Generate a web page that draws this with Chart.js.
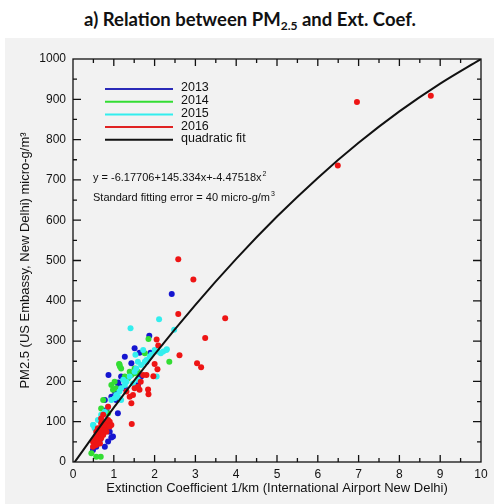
<!DOCTYPE html>
<html>
<head>
<meta charset="utf-8">
<script src="https://cdn.jsdelivr.net/npm/chart.js@4"></script>
<style>
  html, body { margin: 0; padding: 0; background: #fff; }
  #wrap { position: relative; width: 494px; height: 504px; overflow: hidden; }
  #panel { position: absolute; left: 5px; top: 38px; right: 0; bottom: 0; background: #f2f2f2; }
  #title { position: absolute; left: 3px; top: 10px; width: 494px; text-align: center;
           font: bold 18.5px Lato, "Open Sans", sans-serif; line-height: 19px; color: #111; }
  #title sub { font-size: 12px; vertical-align: -4px; line-height: 0; }
  #chart { position: absolute; left: 0; top: 0; }
</style>
</head>
<body>
<div id="wrap">
  <div id="panel"></div>
  <div id="title">a) Relation between PM<sub>2.5</sub> and Ext. Coef.</div>
  <canvas id="chart" width="494" height="504"></canvas>
</div>
<script>
  // valores
  const x2013 = [2.42, 1.87, 1.51, 1.63, 1.27, 1.90, 1.80, 0.87, 1.10, 1.18, 1.27, 1.59, 1.67, 0.78, 0.94, 1.06, 0.82, 1.10, 0.86, 0.90, 0.98, 0.94, 0.78, 0.66, 0.57, 0.49, 0.70, 0.86, 1.18, 1.43, 0.60, 1.03, 1.11];
  const y2013 = [417, 313, 282, 271, 261, 271, 249, 216, 195, 187, 183, 191, 212, 154, 162, 154, 129, 121, 96, 75, 63, 61, 38, 55, 38, 30, 67, 51, 212, 245, 45, 174, 197];

  const x2014 = [1.85, 2.36, 1.14, 1.18, 1.39, 1.35, 1.27, 1.76, 1.43, 0.94, 0.98, 0.74, 0.69, 0.86, 1.06, 1.59, 1.25, 0.45, 0.57, 0.68, 1.02, 1.51, 1.15, 1.13, 1.52];
  const y2014 = [305, 249, 242, 232, 224, 208, 212, 270, 216, 191, 179, 154, 133, 121, 183, 224, 204, 22, 13, 13, 199, 232, 237, 243, 220];

  const x2015 = [1.41, 2.11, 2.48, 1.53, 1.72, 1.76, 2.00, 2.15, 2.29, 2.21, 1.59, 1.55, 1.67, 1.51, 1.39, 1.31, 1.27, 1.18, 1.14, 1.06, 1.02, 0.94, 0.86, 0.78, 0.69, 0.49, 0.53, 0.61, 1.23, 1.10, 1.18, 1.47, 1.59, 1.80, 1.88, 1.92, 2.07, 2.30, 2.05, 0.50];
  const y2015 = [332, 354, 328, 266, 278, 249, 278, 270, 278, 274, 249, 232, 241, 224, 212, 199, 191, 183, 175, 166, 158, 154, 137, 125, 117, 92, 84, 104, 204, 162, 154, 195, 204, 253, 261, 266, 274, 280, 212, 92];

  const x2016 = [2.58, 2.95, 2.58, 3.73, 3.24, 2.61, 3.04, 3.14, 2.05, 2.09, 2.07, 1.97, 2.00, 1.44, 6.49, 6.96, 8.77, 1.72, 1.66, 1.84, 1.85, 1.51, 1.47, 1.39, 1.43, 1.59, 0.86, 0.74, 0.69, 0.90, 0.94, 0.82, 0.86, 0.78, 0.74, 0.69, 0.66, 0.61, 0.57, 0.53, 0.49, 0.53, 0.61, 0.69, 0.66, 0.78, 0.82, 0.74, 0.57, 0.61, 0.86, 0.90, 0.57, 0.49, 0.69, 0.66, 1.31, 1.63, 1.80];
  const y2016 = [503, 453, 367, 357, 308, 265, 245, 235, 304, 289, 230, 213, 243, 94, 736, 893, 909, 216, 199, 180, 168, 183, 166, 162, 146, 187, 137, 117, 108, 100, 92, 96, 88, 84, 79, 75, 71, 67, 63, 55, 50, 46, 55, 59, 84, 92, 75, 67, 75, 84, 104, 88, 42, 38, 96, 46, 175, 179, 216];

  // ajuste cuadratico (valores de la curva negra)
  const fitX = [0, 1, 2, 3, 4, 5, 6, 7, 8, 9, 10];
  const fitY = [-6, 135, 267, 390, 504, 609, 705, 792, 870, 939, 1000];

  const legendNames = ['2013', '2014', '2015', '2016', 'quadratic fit'];
  const legendColors = ['#2a2ab8', '#33dd33', '#33eeee', '#e02222', '#111111'];
  const equationText = 'y = -6.17706+145.334x+-4.47518x';
  const errorText = 'Standard fitting error = 40 micro-g/m';

  const toPoints = (xs, ys) => xs.map((x, i) => ({ x, y: ys[i] }));

  const pointSet = (label, xs, ys, color, order) => ({
    label,
    data: toPoints(xs, ys),
    backgroundColor: color,
    borderWidth: 0,
    pointRadius: 3,
    pointHoverRadius: 3,
    order,
  });

  const frameAndLegend = {
    id: 'frameAndLegend',
    afterDatasetsDraw(chart) {
      const { ctx, chartArea: a, scales: { x, y } } = chart;
      ctx.save();
      ctx.strokeStyle = '#111';
      ctx.lineWidth = 1.3;

      // marcas hacia adentro en los cuatro lados
      ctx.beginPath();
      for (let v = 0.5; v < 10; v += 0.5) {
        const px = x.getPixelForValue(v);
        const len = Number.isInteger(v) ? 7 : 4;
        ctx.moveTo(px, a.bottom); ctx.lineTo(px, a.bottom - len);
        ctx.moveTo(px, a.top); ctx.lineTo(px, a.top + len);
      }
      for (let v = 50; v < 1000; v += 50) {
        const py = y.getPixelForValue(v);
        const len = v % 100 === 0 ? 8 : 4;
        ctx.moveTo(a.left, py); ctx.lineTo(a.left + len, py);
        ctx.moveTo(a.right, py); ctx.lineTo(a.right - len, py);
      }
      ctx.stroke();
      ctx.strokeRect(a.left, a.top, a.right - a.left, a.bottom - a.top);

      // leyenda
      ctx.font = '12.5px "Liberation Sans", Arial, sans-serif';
      ctx.textBaseline = 'middle';
      ctx.fillStyle = '#111';
      legendNames.forEach((name, i) => {
        const ly = a.top + 30 + i * 12.7;
        ctx.strokeStyle = legendColors[i];
        ctx.lineWidth = 2;
        ctx.beginPath();
        ctx.moveTo(a.left + 32, ly);
        ctx.lineTo(a.left + 100, ly);
        ctx.stroke();
        ctx.fillText(name, a.left + 108, ly - 1);
      });

      // ecuacion del ajuste
      ctx.font = '11px "Liberation Sans", Arial, sans-serif';
      ctx.textBaseline = 'alphabetic';
      const ex = a.left + 20;
      ctx.fillText(equationText, ex, a.top + 122);
      let w = ctx.measureText(equationText).width;
      ctx.font = '7px "Liberation Sans", Arial, sans-serif';
      ctx.fillText('2', ex + w + 1, a.top + 117);
      ctx.font = '11px "Liberation Sans", Arial, sans-serif';
      ctx.fillText(errorText, ex, a.top + 142);
      w = ctx.measureText(errorText).width;
      ctx.font = '7px "Liberation Sans", Arial, sans-serif';
      ctx.fillText('3', ex + w + 1, a.top + 137);
      ctx.restore();
    },
  };

  const font = { family: '"Liberation Sans", Arial, sans-serif', size: 12 };

  new Chart(document.getElementById('chart'), {
    type: 'scatter',
    data: {
      datasets: [
        {
          type: 'line',
          label: 'quadratic fit',
          data: toPoints(fitX, fitY),
          borderColor: '#111',
          borderWidth: 2,
          pointRadius: 0,
          fill: false,
          cubicInterpolationMode: 'monotone',
          order: 0,
        },
        pointSet('2016', x2016, y2016, '#ee1515', 1),
        pointSet('2015', x2015, y2015, '#33eeee', 2),
        pointSet('2014', x2014, y2014, '#33dd33', 3),
        pointSet('2013', x2013, y2013, '#1515d0', 4),
      ],
    },
    options: {
      responsive: false,
      animation: false,
      layout: { padding: { left: 0, right: 13, top: 59, bottom: 0 } },
      plugins: {
        legend: { display: false },
        tooltip: { enabled: false },
      },
      scales: {
        x: {
          type: 'linear',
          min: 0,
          max: 10,
          grid: { display: false, drawTicks: false },
          border: { display: false },
          ticks: { stepSize: 1, color: '#111', font, padding: 5, maxRotation: 0, callback: (v) => String(v) },
          title: {
            display: true,
            text: 'Extinction Coefficient 1/km (International Airport New Delhi)',
            color: '#111',
            font: { family: font.family, size: 13 },
            padding: { top: 0, bottom: 8 },
          },
          afterFit: (scale) => { scale.height = 42; },
        },
        y: {
          min: 0,
          max: 1000,
          grid: { display: false, drawTicks: false },
          border: { display: false },
          ticks: { stepSize: 100, color: '#111', font, padding: 7, callback: (v) => String(v) },
          title: {
            display: true,
            text: 'PM2.5 (US Embassy, New Delhi) micro-g/m³',
            color: '#111',
            font: { family: font.family, size: 13 },
            padding: { top: 18, bottom: 0 },
          },
          afterFit: (scale) => { scale.width = 73; },
        },
      },
    },
    plugins: [frameAndLegend],
  });
</script>
</body>
</html>
